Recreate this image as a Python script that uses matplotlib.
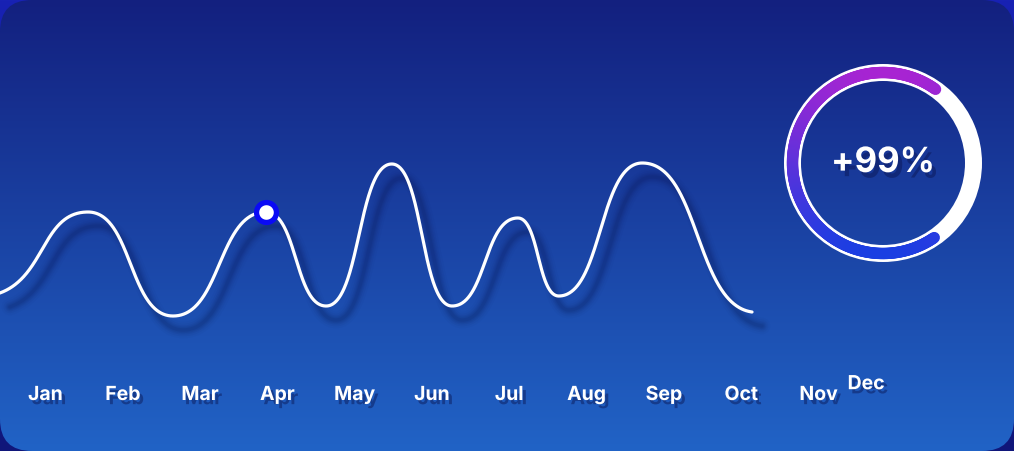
import numpy as np
import matplotlib
matplotlib.use("Agg")
import matplotlib.pyplot as plt
from matplotlib import transforms
from matplotlib.patches import FancyBboxPatch, Wedge
from matplotlib.collections import LineCollection
import matplotlib.patheffects as pe

plt.rcParams['font.family'] = ['Inter', 'DejaVu Sans']

# turning points of the curve (x in month units, Jan = 0), value index
curve_x = [-0.59, 0.55, 1.65, 2.85, 3.63, 4.48, 5.26, 6.11, 6.64, 7.72, 9.14]
curve_y = [23.5, 64, 12, 64, 17, 88, 17, 61, 22, 88.5, 14]
highlight_idx = 3  # Apr peak

months = ['Jan', 'Feb', 'Mar', 'Apr', 'May', 'Jun', 'Jul', 'Aug', 'Sep', 'Oct', 'Nov', 'Dec']
percent_label = '+99%'
percent_value = 250 / 360  # share of the ring that is coloured

W, H = 1014, 451


def smooth(x, y, handle=0.52, start_slope=0.4, end_slope=0.1, n=200):
    # cubic beziers between turning points, flat handles like a vector editor
    x = np.asarray(x, float)
    y = np.asarray(y, float)
    slopes = np.zeros(len(x))
    slopes[0] = start_slope * (y[1] - y[0]) / (x[1] - x[0])
    slopes[-1] = end_slope * (y[-1] - y[-2]) / (x[-1] - x[-2])
    s = np.linspace(0, 1, n)[:, None]
    out = []
    for k in range(len(x) - 1):
        L = x[k + 1] - x[k]
        p0 = np.array([x[k], y[k]])
        p3 = np.array([x[k + 1], y[k + 1]])
        p1 = p0 + handle * L * np.array([1, slopes[k]])
        p2 = p3 - handle * L * np.array([1, slopes[k + 1]])
        b = (1 - s)**3 * p0 + 3 * (1 - s)**2 * s * p1 + 3 * (1 - s) * s**2 * p2 + s**3 * p3
        out.append(b if k == 0 else b[1:])
    pts = np.vstack(out)
    return pts[:, 0], pts[:, 1]


def hex2rgb(c):
    c = c.lstrip('#')
    return np.array([int(c[i:i + 2], 16) / 255 for i in (0, 2, 4)])


fig = plt.figure(figsize=(W / 100, H / 100), dpi=100)

# background + card
bg = fig.add_axes([0, 0, 1, 1])
bg.set_xlim(0, W)
bg.set_ylim(H, 0)
bg.axis('off')
t = np.linspace(0, 1, H)[:, None, None]
outer = hex2rgb('#1822b4') * (1 - t) + hex2rgb('#10167a') * t
bg.imshow(np.repeat(outer, 2, axis=1), extent=[0, W, H, 0], aspect='auto', zorder=0)
card_grad = hex2rgb('#13207f') * (1 - t) + hex2rgb('#2163c6') * t
im = bg.imshow(np.repeat(card_grad, 2, axis=1), extent=[0, W, H, 0], aspect='auto', zorder=1)
card = FancyBboxPatch((0, 0), W, H, boxstyle='round,pad=0,rounding_size=32',
                      facecolor='none', edgecolor='none', transform=bg.transData)
bg.add_patch(card)
im.set_clip_path(card)

# line chart, x in months, y as index value
ax = fig.add_axes([0, 0, 1, 1])
ax.set_xlim(-45.5 / 77.3, (W - 45.5) / 77.3)
ax.set_ylim((340 - H) / 2, 340 / 2)
ax.axis('off')
ax.patch.set_alpha(0)

xs, ys = smooth(curve_x, curve_y)

shadow_tr = transforms.offset_copy(ax.transData, fig=fig, x=10, y=-14, units='dots')
for lw, a in [(12, 0.03), (9, 0.05), (6.5, 0.07), (4.5, 0.08), (2.5, 0.1)]:
    ax.plot(xs, ys, color='#0a1550', lw=lw, alpha=a, transform=shadow_tr,
            solid_capstyle='round', zorder=2)
ax.plot(xs, ys, color='white', lw=2.3, solid_capstyle='round', zorder=3)
ax.plot(curve_x[highlight_idx], curve_y[highlight_idx], 'o', ms=14.3, mew=3.8,
        mfc='white', mec='#0a0af5', zorder=4)

label_fx = [pe.withSimplePatchShadow(offset=(2.5, -3), shadow_rgbFace='#0a1450', alpha=0.45)]
for i, name in enumerate(months[:-1]):
    ax.text(i, -30, name, color='white', fontsize=14, fontweight='bold',
            ha='center', va='baseline', path_effects=label_fx, zorder=5)
ax.text((866 - 45.5) / 77.3, -24.6, months[-1], color='white', fontsize=14,
        fontweight='bold', ha='center', va='baseline', path_effects=label_fx, zorder=5)

# progress ring
size = 220
rax = fig.add_axes([(883 - size / 2) / W, (H - 163 - size / 2) / H, size / W, size / H])
rax.set_xlim(-size / 2, size / 2)
rax.set_ylim(-size / 2, size / 2)
rax.set_aspect('equal')
rax.axis('off')
rax.add_patch(Wedge((0, 0), 99, 0, 360, width=17, facecolor='white', edgecolor='none'))

start = 54.5
ang = np.radians(np.linspace(start, start + 360 * percent_value, 300))
r = 90.5
px, py = r * np.cos(ang), r * np.sin(ang)
pts = np.column_stack([px, py]).reshape(-1, 1, 2)
segs = np.concatenate([pts[:-1], pts[1:]], axis=1)
top_c, bot_c = hex2rgb('#a824d2'), hex2rgb('#1a3ee2')
tt = ((r - (py[:-1] + py[1:]) / 2) / (2 * r))[:, None]
cols = top_c * (1 - tt) + bot_c * tt
rax.add_collection(LineCollection(segs, colors=cols, linewidths=8.2, capstyle='round', zorder=3))

rax.text(0, 0, percent_label, color='white', fontsize=25, fontweight='bold', ha='center',
         va='center', path_effects=[pe.withSimplePatchShadow(offset=(3, -4),
                                                             shadow_rgbFace='#0a1450', alpha=0.45)])

fig.savefig('out.png', dpi=100)
